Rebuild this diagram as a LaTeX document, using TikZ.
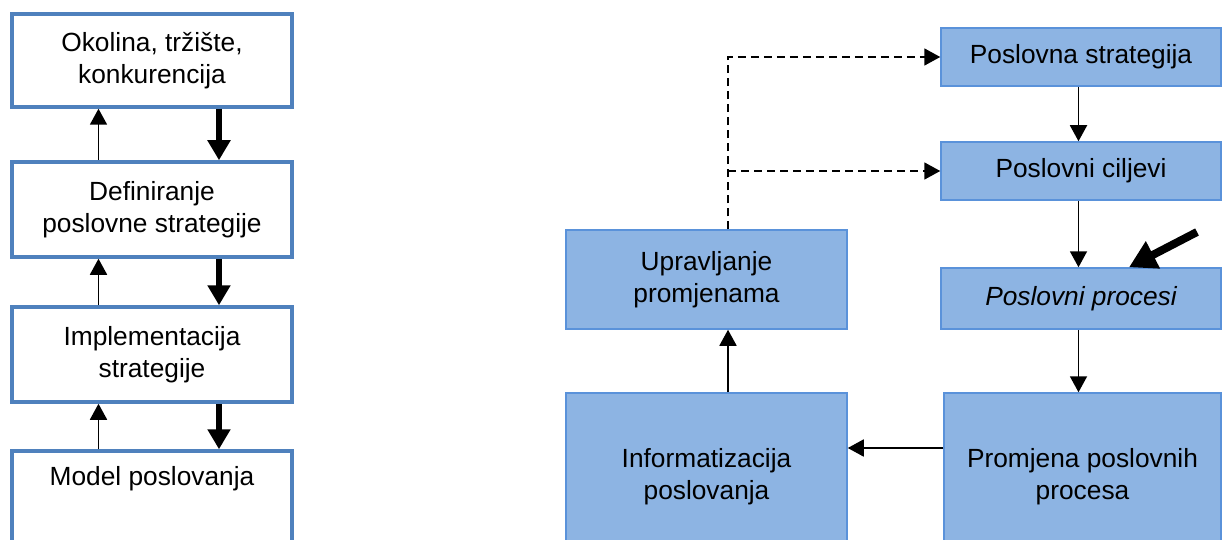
\documentclass[tikz,border=0pt]{standalone}
\usepackage{fontspec}
\setmainfont{Liberation Sans}
\usetikzlibrary{arrows.meta,calc}
\definecolor{lborder}{RGB}{79,129,189}
\definecolor{rfill}{RGB}{141,180,227}
\definecolor{rborder}{RGB}{90,146,218}
\newcommand{\diagfont}{\fontsize{26.3pt}{32pt}\selectfont}
\begin{document}
\begin{tikzpicture}[x=1pt,y=-1pt,
  lbox/.style={draw=lborder, line width=3.5pt, minimum width=280pt, inner sep=0pt, align=center, font=\diagfont},
  rbox/.style={draw=rborder, fill=rfill, line width=1.5pt, inner sep=0pt, align=center, font=\diagfont},
  txt/.style={inner sep=0pt, align=center, font=\diagfont},
  upar/.style={line width=1.8pt, -{Triangle[length=16pt,width=17pt]}},
  downar/.style={line width=6.6pt, -{Triangle[length=20pt,width=22pt]}},
  dashline/.style={line width=1.9pt, dash pattern=on 8pt off 5pt},
  diagar/.style={line width=8pt, -{Triangle[length=27pt,width=29pt]}}
]
\useasboundingbox (0,0) rectangle (1222,540);
\clip (0,0) rectangle (1222,540);

% left column
\node[lbox, minimum height=93pt] (b1) at (152,60.5) {Okolina, tržište,\\konkurencija};
\node[lbox, minimum height=95pt] (b2) at (152,209.5) {Definiranje\\poslovne strategije};
\node[lbox, minimum height=95pt] (b3) at (152,354.5) {Implementacija\\strategije};
\node[lbox, minimum height=150pt] (b4) at (152,526) {};
\node[txt] (b4t) at (152,479) {Model poslovanja};

\foreach \lo/\hi in {b2/b1, b3/b2, b4/b3}{
  \draw[upar] ([xshift=-53.5pt]\lo.north) -- ([xshift=-53.5pt]\hi.south);
  \draw[downar] ([xshift=67pt]\hi.south) -- ([xshift=67pt]\lo.north);
}

\coordinate (dstart) at (1197,232);

% right part
\node[rbox, minimum width=280pt, minimum height=58pt] (ps) at (1081,57) {Poslovna strategija};
\node[rbox, minimum width=280pt, minimum height=58pt] (pc) at (1081,171) {Poslovni ciljevi};
\node[rbox, minimum width=280pt, minimum height=61pt] (pp) at (1081,298.5) {\itshape Poslovni procesi};
\node[rbox, minimum width=281pt, minimum height=99pt] (up) at (706.5,279.5) {Upravljanje\\promjenama};
\node[rbox, minimum width=281pt, minimum height=168pt] (in) at (706.5,477) {Informatizacija\\poslovanja};
\node[rbox, minimum width=277pt, minimum height=168pt] (pr) at (1082.5,477) {Promjena poslovnih\\procesa};

\draw[diagar] (dstart) -- ([xshift=48pt]pp.north);

\draw[upar] ([xshift=-2.5pt]ps.south) -- ([xshift=-2.5pt]pc.north);
\draw[upar] ([xshift=-2.5pt]pc.south) -- ([xshift=-2.5pt]pp.north);
\coordinate (ppo) at ([xshift=-2.5pt]pp.south);
\draw[upar] (ppo) -- (ppo |- pr.north);
\coordinate (pri) at ([yshift=29pt]pr.west);
\draw[upar] (pri) -- (pri -| in.east);
\draw[upar] ([xshift=21.5pt]in.north) -- ([xshift=21.5pt]up.south);

\coordinate (dv) at ([xshift=21.5pt]up.north);
\draw[dashline] (dv) |- ([xshift=-15pt]ps.west);
\draw[dashline] (dv |- pc.west) -- ([xshift=-15pt]pc.west);
\draw[upar] ([xshift=-16pt]ps.west) -- (ps.west);
\draw[upar] ([xshift=-16pt]pc.west) -- (pc.west);
\end{tikzpicture}
\end{document}
